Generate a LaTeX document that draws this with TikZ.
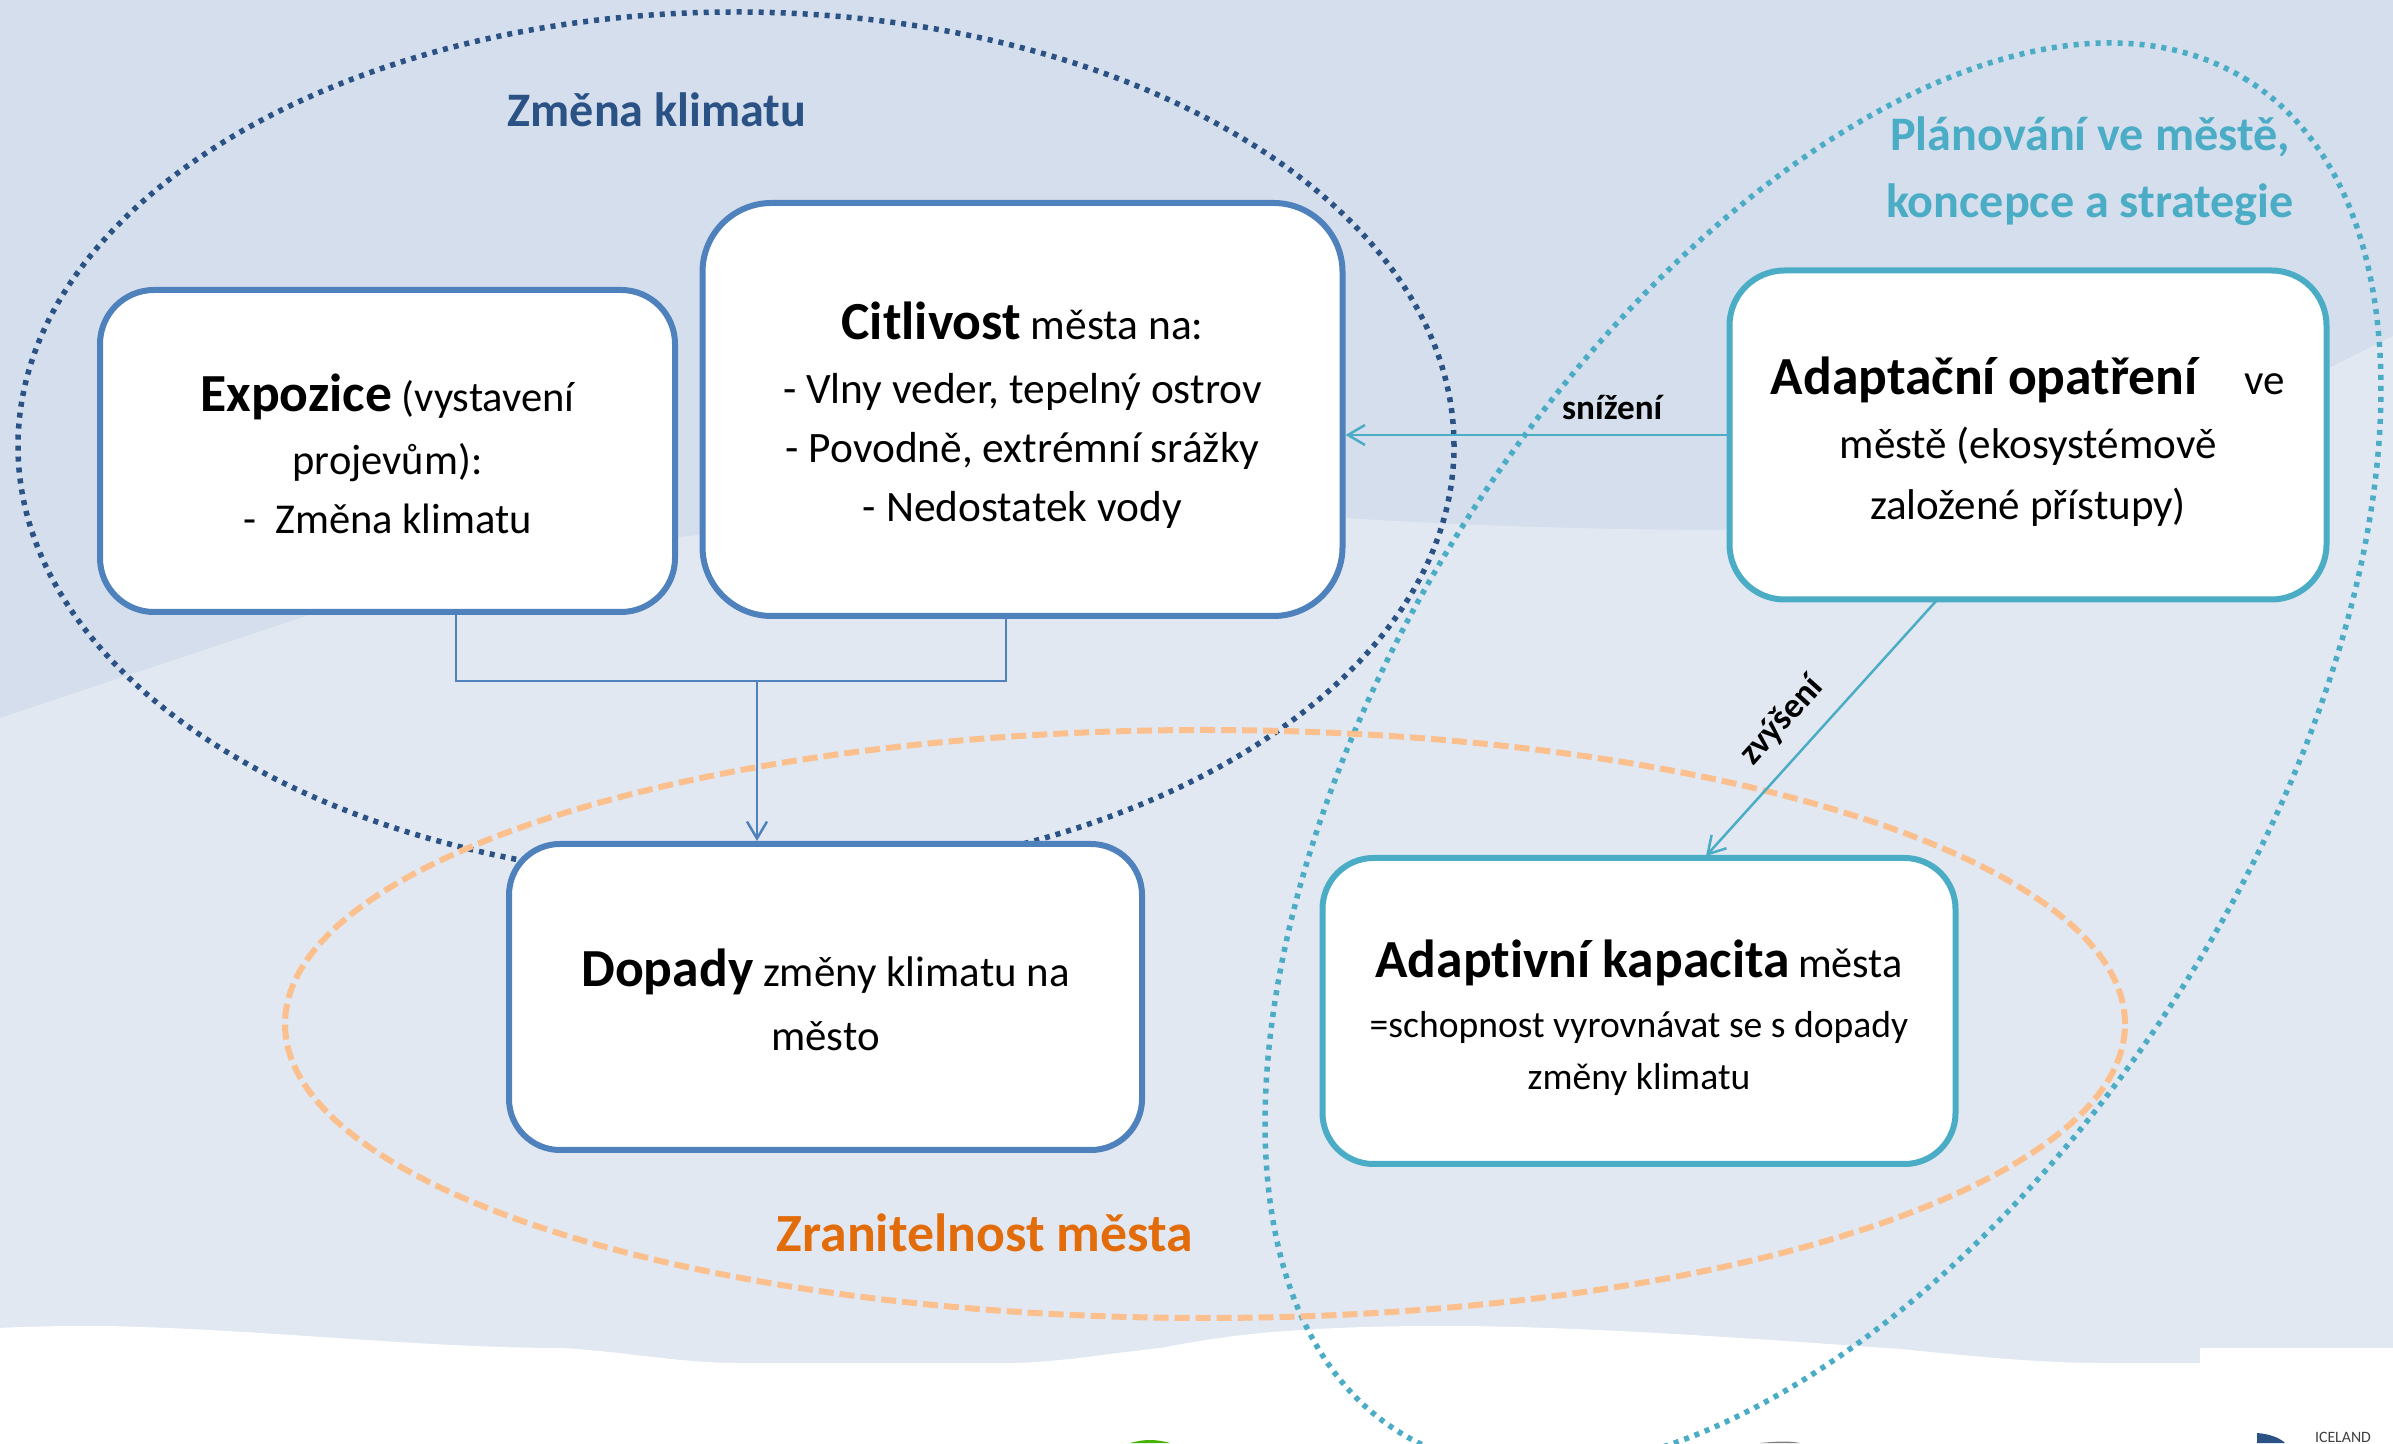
\documentclass[tikz,border=0pt]{standalone}
\usepackage{fontspec}
\setmainfont[Ligatures=NoCommon]{Carlito}
\usepackage{tikz}
\usetikzlibrary{arrows.meta}

\definecolor{bgdark}{HTML}{D5DEEC}
\definecolor{bglight}{HTML}{E1E8F2}
\definecolor{boxblue}{HTML}{4F81BD}
\definecolor{boxteal}{HTML}{4BACC6}
\definecolor{navy}{HTML}{2B5285}
\definecolor{peach}{HTML}{FBC08E}
\definecolor{rust}{HTML}{E36C0A}

\tikzset{
    card/.style={draw, fill=white, line width=0.06cm, inner sep=0pt, align=center},
    bluecard/.style={card, draw=boxblue},
    tealcard/.style={card, draw=boxteal},
    bluelink/.style={draw=boxblue, line width=0.025cm},
    teallink/.style={draw=boxteal, line width=0.025cm},
    tipped/.style={-{Straight Barb[length=0.17cm,width=0.2cm]}},
    dotring/.style={line width=0.055cm, dash pattern=on 0.05cm off 0.06cm},
    heading/.style={font=\fontsize{13.7}{19}\selectfont\bfseries, align=center},
    small/.style={font=\fontsize{10}{12}\selectfont\bfseries, text=black}
}
\newcommand{\bigbold}[1]{{\fontsize{15.25}{17}\selectfont\bfseries #1}}
\newcommand{\topgap}[1]{\rule{0pt}{#1}}

\begin{document}
\begin{tikzpicture}
    \useasboundingbox (0,0) rectangle (23.93,14.43);
    \clip (0,0) rectangle (23.93,14.43);

    % Background bands
    \fill[bgdark] (0,14.43) rectangle (23.93,0.5);
    \fill[bglight] (0,7.25) .. controls (1.04,7.60) and (2.08,7.94) .. (3.12,8.29)
        .. controls (4.3,8.68) and (5.6,8.95) .. (6.90,9.07)
        .. controls (9,9.38) and (11.5,9.38) .. (13.45,9.25)
        .. controls (14.5,9.18) and (16,9.13) .. (17.25,9.13)
        .. controls (19.5,9.13) and (22,9.93) .. (23.29,10.75)
        -- (23.93,11.07) -- (23.93,0.5) -- (0,0.5) -- cycle;
    \fill[white] (0,1.15) .. controls (0.35,1.17) and (0.7,1.17) .. (1.05,1.17)
        .. controls (2.6,1.14) and (4.2,0.95) .. (5.61,0.95)
        .. controls (6.2,0.92) and (6.8,0.80) .. (7.37,0.80)
        -- (10.17,0.80) .. controls (10.7,0.82) and (11.1,0.90) .. (11.61,0.95)
        .. controls (12.1,1.05) and (12.6,1.11) .. (13.04,1.13)
        .. controls (13.6,1.17) and (14.1,1.17) .. (14.59,1.17)
        .. controls (16,1.16) and (17.7,1.03) .. (19,0.94)
        .. controls (19.7,0.87) and (20.4,0.80) .. (21,0.80)
        -- (22,0.80) -- (22,0.95) -- (23.93,0.95) -- (23.93,0) -- (0,0) -- cycle;

    % Logo fragments along the lower edge
    \fill[green!60!yellow!70!black] (11.3,0) .. controls (11.45,0.04) and (11.55,0.04) .. (11.7,0) -- cycle;
    \fill[gray] (17.6,0) .. controls (17.8,0.02) and (17.9,0.02) .. (18,0) -- cycle;
    \fill[navy] (22.57,0) -- (22.57,0.10) .. controls (22.7,0.09) and (22.8,0.05) .. (22.85,0) -- cycle;
    \node[font=\fontsize{4.5}{4.5}\selectfont, text=black!75, inner sep=0pt] (logotext) at (23.43,0.06) {ICELAND};

    % Rings
    \draw[navy, dotring] (7.36,9.97) ellipse (7.18 and 4.34);
    \draw[boxteal, dotring] (18.23,6.87) ellipse [x radius=7.98, y radius=4.275, rotate=57.85];
    \draw[peach, line width=0.06cm, dash pattern=on 0.15cm off 0.06cm] (12.05,4.19) ellipse (9.20 and 2.94);

    % Ring titles
    \node[heading, text=navy] (klima) at (6.57,13.33) {Změna klimatu};
    \node[heading, text=boxteal] (plan) at (20.90,12.72) {Plánování ve městě,\\koncepce a strategie};
    \node[heading, text=rust, font=\fontsize{15.3}{20}\selectfont\bfseries] (zranit) at (9.85,2.10) {Zranitelnost města};

    % Cards
    \node[bluecard, rounded corners=0.54cm, minimum width=5.75cm, minimum height=3.22cm,
        font=\fontsize{12.1}{16.9}\selectfont] (expo) at (3.875,9.92)
        {\topgap{12.5pt}\bigbold{Expozice} (vystavení\\[1pt]projevům):\\-\ \ Změna klimatu};
    \node[bluecard, rounded corners=0.69cm, minimum width=6.40cm, minimum height=4.13cm,
        font=\fontsize{12.35}{16.9}\selectfont] (cit) at (10.225,10.335)
        {\topgap{14pt}\bigbold{Citlivost} města na:\\[1.3pt]- Vlny veder, tepelný ostrov\\- Povodně, extrémní srážky\\- Nedostatek vody};
    \node[bluecard, rounded corners=0.51cm, minimum width=6.33cm, minimum height=3.06cm,
        font=\fontsize{12.2}{18.2}\selectfont] (dopady) at (8.255,4.46)
        {\topgap{12.5pt}\bigbold{Dopady} změny klimatu na\\město};
    \node[tealcard, rounded corners=0.55cm, minimum width=5.97cm, minimum height=3.29cm,
        font=\fontsize{12.25}{17.4}\selectfont] (adapt) at (20.28,10.08)
        {\topgap{14.5pt}\bigbold{Adaptační opatření}\hspace{1.1em}ve\\[0.6pt]městě (ekosystémově\\založené přístupy)};
    \node[tealcard, rounded corners=0.51cm, minimum width=6.33cm, minimum height=3.06cm,
        font=\fontsize{10.7}{14.8}\selectfont] (adkap) at (16.39,4.32)
        {\topgap{14.5pt}\bigbold{Adaptivní kapacita} {\fontsize{12}{15}\selectfont města}\\[2.2pt]=schopnost vyrovnávat se s dopady\\změny klimatu};

    % Connectors
    \coordinate (joinL) at (4.56,7.62);
    \coordinate (joinM) at (7.57,7.62);
    \coordinate (joinR) at (10.06,7.62);
    \draw[bluelink] (joinL |- expo.south) -- (joinL) -- (joinR) -- (joinR |- cit.south);
    \draw[bluelink, tipped] (joinM) -- (joinM |- dopady.north);

    \draw[teallink, tipped] (adapt.west) -- (adapt.west -| cit.east)
        node[small, pos=0.30, above=0.02cm] (lower) {snížení};

    \coordinate (adaptfoot) at (19.37,8.43);
    \coordinate (adkaphead) at (17.06,5.87);
    \draw[teallink, tipped] (adaptfoot) -- (adkaphead);
    \node[small, rotate=48] (raise) at (17.82,7.22) {zvýšení};
\end{tikzpicture}
\end{document}
